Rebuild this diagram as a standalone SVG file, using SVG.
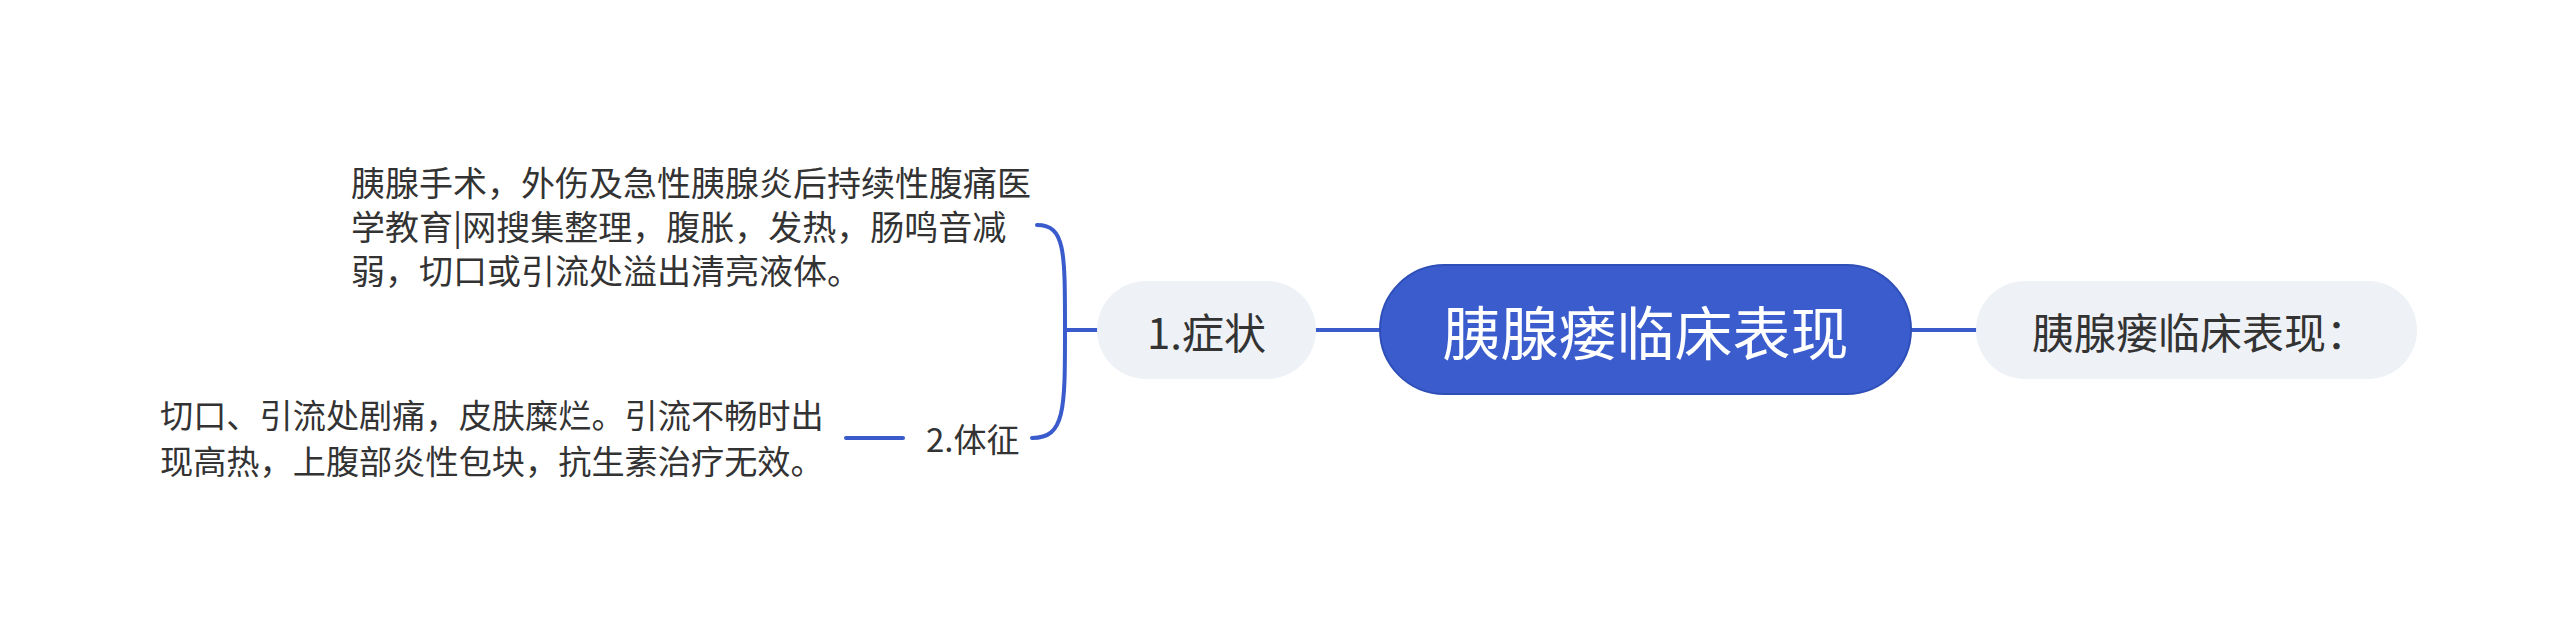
<svg xmlns="http://www.w3.org/2000/svg" width="2560" height="639" viewBox="0 0 2560 639">
<style>
.t{font-family:"Noto Sans CJK SC","Noto Sans",sans-serif;fill:#333333;dominant-baseline:central}
.c{text-anchor:middle}
.sub{fill:#eef1f5}
.ln{fill:none;stroke:#3a5bcb;stroke-width:4;stroke-linecap:round}
</style>
<rect width="2560" height="639" fill="#ffffff"/>
<g id="connectors">
<path class="ln" d="M1911,330 L1976,330"/>
<path class="ln" d="M1380,330 L1316,330"/>
<path class="ln" d="M1097,330 L1065,330"/>
<path class="ln" d="M1065,330 C1065,250 1065,225 1037,225"/>
<path class="ln" d="M1065,330 C1065,410 1065,438 1032,438"/>
<path class="ln" d="M846,438 L903,438"/>
</g>
<g id="root">
<rect x="1380" y="265" width="531" height="129" rx="64.5" fill="#3a5ccc" stroke="#2f4fb8" stroke-width="2"/>
<text class="t c" x="1645.5" y="330" font-size="58" style="fill:#ffffff">胰腺瘘临床表现</text>
</g>
<g id="right">
<rect class="sub" x="1976" y="281" width="441" height="98" rx="49"/>
<text class="t c" x="2200" y="330" font-size="42">胰腺瘘临床表现：</text>
</g>
<g id="symptom">
<rect class="sub" x="1097" y="281" width="219" height="98" rx="49"/>
<text class="t c" x="1206.5" y="330" font-size="42">1.症状</text>
</g>
<g id="symptom-text">
<text class="t" x="351" y="181" font-size="34">胰腺手术，外伤及急性胰腺炎后持续性腹痛医</text>
<text class="t" x="351" y="225" font-size="34">学教育|网搜集整理，腹胀，发热，肠鸣音减</text>
<text class="t" x="351" y="269" font-size="34">弱，切口或引流处溢出清亮液体。</text>
</g>
<g id="sign">
<text class="t" x="926" y="438" font-size="33">2.体征</text>
</g>
<g id="sign-text">
<text class="t" x="160" y="413" font-size="33.2">切口、引流处剧痛，皮肤糜烂。引流不畅时出</text>
<text class="t" x="160" y="459" font-size="33.2">现高热，上腹部炎性包块，抗生素治疗无效。</text>
</g>
</svg>
